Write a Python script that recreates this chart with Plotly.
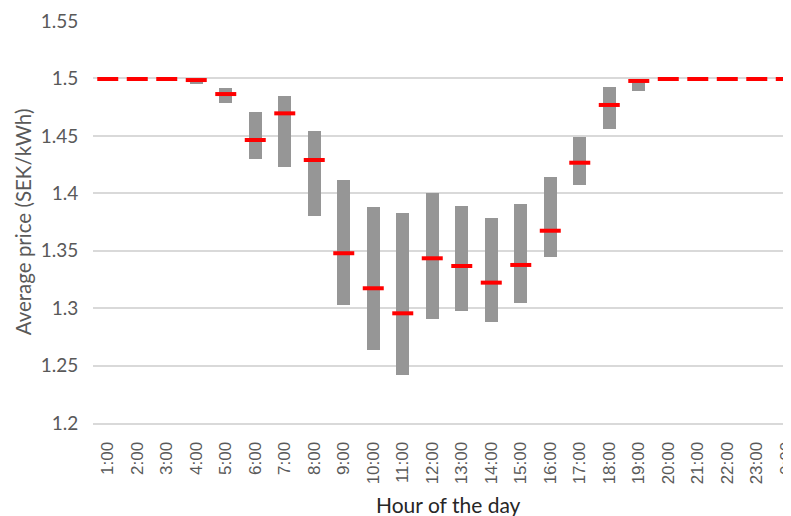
import plotly.graph_objects as go

hours = ["1:00", "2:00", "3:00", "4:00", "5:00", "6:00", "7:00", "8:00", "9:00", "10:00",
         "11:00", "12:00", "13:00", "14:00", "15:00", "16:00", "17:00", "18:00", "19:00",
         "20:00", "21:00", "22:00", "23:00", "0:00"]
avg_price = [1.4995, 1.4995, 1.4995, 1.4986, 1.4864, 1.4464, 1.4696, 1.429, 1.3478, 1.3173,
             1.2955, 1.3434, 1.3367, 1.3222, 1.3376, 1.3674, 1.4266, 1.4769, 1.4978,
             1.4995, 1.4995, 1.4995, 1.4995, 1.4995]
min_price = [1.4995, 1.4995, 1.4995, 1.4949, 1.4789, 1.4299, 1.4226, 1.3805, 1.3024, 1.2636,
             1.2418, 1.2906, 1.2978, 1.2877, 1.3042, 1.3448, 1.4070, 1.4557, 1.4893,
             1.4995, 1.4995, 1.4995, 1.4995, 1.4995]
max_price = [1.4995, 1.4995, 1.4995, 1.4998, 1.4920, 1.4705, 1.4850, 1.4540, 1.4116, 1.3883,
             1.3826, 1.4005, 1.3892, 1.3788, 1.3904, 1.4139, 1.4487, 1.4923, 1.4997,
             1.4995, 1.4995, 1.4995, 1.4995, 1.4995]

idx = list(range(len(hours)))

fig = go.Figure()
fig.add_trace(go.Bar(
    x=idx,
    y=[hi - lo for hi, lo in zip(max_price, min_price)],
    base=min_price,
    width=0.45,
    marker=dict(color="rgb(150,150,150)", line=dict(width=0)),
    showlegend=False,
    hoverinfo="skip",
))
fig.add_trace(go.Scatter(
    x=idx,
    y=avg_price,
    mode="markers",
    marker=dict(symbol="line-ew", size=15, color="#ff0000",
                line=dict(width=4, color="#ff0000")),
    showlegend=False,
))

fig.update_layout(
    width=783, height=508,
    margin=dict(l=85, r=0, t=13, b=93),
    paper_bgcolor="white",
    plot_bgcolor="white",
    font=dict(family="Lato", color="#595959"),
    bargap=0,
    xaxis=dict(
        range=[-0.5, 23.16],
        automargin=False,
        tickmode="array",
        tickvals=idx,
        ticktext=hours,
        tickangle=-90,
        ticklabeloverflow="allow",
        tickfont=dict(family="Liberation Sans", size=17, color="#595959"),
        showgrid=False,
        showline=True,
        linecolor="#d9d9d9",
        linewidth=2,
        ticks="outside",
        ticklen=10,
        tickcolor="rgba(0,0,0,0)",
        zeroline=False,
    ),
    yaxis=dict(
        range=[1.2, 1.55],
        automargin=False,
        tickmode="array",
        tickvals=[1.2, 1.25, 1.3, 1.35, 1.4, 1.45, 1.5, 1.55],
        ticktext=["1.2", "1.25", "1.3", "1.35", "1.4", "1.45", "1.5", "1.55"],
        tickfont=dict(family="Lato", size=19, color="#595959"),
        showgrid=True,
        gridcolor="#d9d9d9",
        gridwidth=2,
        zeroline=False,
        ticks="outside",
        ticklen=10,
        tickcolor="rgba(0,0,0,0)",
        title=dict(text="Average price (SEK/kWh)",
                   font=dict(family="Lato", size=20.5, color="#595959"),
                   standoff=3),
    ),
    annotations=[dict(
        text="Hour of the day", xref="paper", yref="paper",
        x=0.51, y=0, yshift=-81, xanchor="center", yanchor="middle",
        showarrow=False,
        font=dict(family="Lato", size=21, color="#262626"),
    )],
)

fig.write_html("out.html")
